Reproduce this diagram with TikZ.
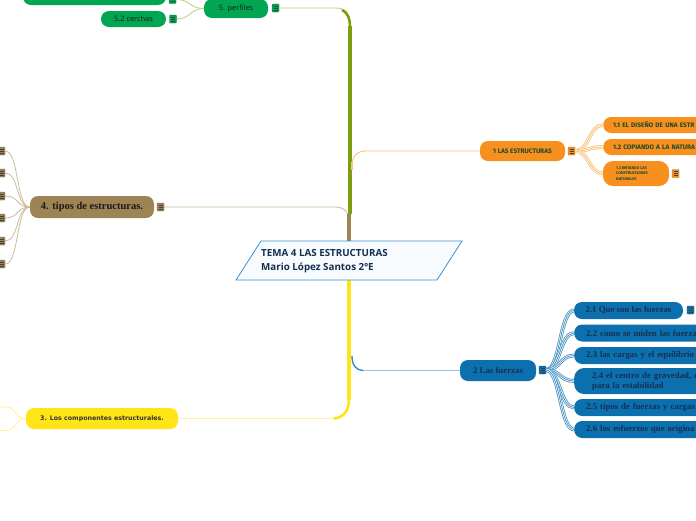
\documentclass[tikz,border=0pt]{standalone}
\usepackage{fontspec}
\setmainfont{Open Sans}
\newfontfamily\firaf{Fira Sans}
\newfontfamily\serf{Liberation Serif}
\newfontfamily\dejf{DejaVu Sans}
\definecolor{cgreen}{HTML}{00A651}
\definecolor{colive}{HTML}{7F9D10}
\definecolor{cgthin}{HTML}{BCD07A}
\definecolor{corange}{HTML}{F7901E}
\definecolor{corl}{HTML}{F9C27B}
\definecolor{ctextg}{HTML}{1D4A2A}
\definecolor{cbrown}{HTML}{9E8455}
\definecolor{ctan}{HTML}{CBBD9E}
\definecolor{cyellow}{HTML}{FFE516}
\definecolor{cyl}{HTML}{FFF09C}
\definecolor{cblue}{HTML}{0C70AF}
\definecolor{cbl}{HTML}{92C3E8}
\definecolor{cnavy}{HTML}{14304F}
\definecolor{cframe}{HTML}{3C8FD0}
\definecolor{cfill}{HTML}{F7FBFD}
\tikzset{
  pill/.style={fill=#1, draw=none, rounded corners=8pt, inner sep=0pt},
  ico/.style={draw=#1!70!black, line width=0.4pt, fill=#1, minimum width=7pt,
    minimum height=8pt, inner sep=0pt, rounded corners=0.8pt,
    path picture={\foreach \k in {-2,0,2}
      \draw[black!75, line width=0.55pt] ([xshift=1.5pt,yshift=\k pt]path picture bounding box.west)
        -- ([xshift=-1.5pt,yshift=\k pt]path picture bounding box.east);}},
  tri/.style={draw=#1, line width=0.8pt,
    preaction={draw=#1, line width=0.8pt, double=white, double distance=2.2pt}},
  gfont/.style={font=\fontsize{7.4}{8.5}\selectfont, text=black!90},
  ofont/.style={font=\firaf\bfseries\fontsize{6.5}{7.5}\selectfont, text=ctextg},
  bfont/.style={font=\serf\bfseries\fontsize{8.8}{10}\selectfont, text=cnavy},
  brfont/.style={font=\serf\bfseries\fontsize{10.5}{11}\selectfont, text=black!90},
  yfont/.style={font=\dejf\bfseries\fontsize{6.3}{7.5}\selectfont, text=black!80},
}
\begin{document}
\begin{tikzpicture}[x=1pt,y=-1pt]
\fill[white] (0,0) rectangle (696,520);
\useasboundingbox (0,0) rectangle (696,520);
\clip (0,0) rectangle (696,520);

% ---- trunk coordinates
\coordinate (ctop) at (349,241);
\coordinate (cbot) at (349,280);

% ---- green branch
\node[pill=cgreen, minimum width=64pt, minimum height=19pt, gfont] (perf) at (236,8.5) {5. perfiles};
\node[ico=cgreen] (ip) at (275.5,8) {};
\node[pill=cgreen, minimum width=143pt, minimum height=17pt] (g1) at (94.5,-3.5) {};
\node[ico=cgreen] (ig1) at (172.5,-0.5) {};
\node[pill=cgreen, minimum width=65pt, minimum height=16pt, gfont] (g2) at (133.5,19) {5.2 cerchas};
\node[ico=cgreen] (ig2) at (173,19) {};

\draw[cgthin, line width=0.9pt] (ip.east) -- (336,8) .. controls (345,8) and (350,13) .. (350,24);
\draw[colive, line width=4.2pt] (350,214) -- (350,26);
\draw[colive, line width=2.6pt] (350,27) .. controls (350,18) and (347,12) .. (342,10);
\draw[cgthin, line width=0.8pt] (perf.west) .. controls +(-14,0) and +(14,0) .. (ig2.east);
\draw[cgthin, line width=0.8pt] (perf.west) .. controls +(-14,0) and +(14,0) .. (ig1.east);

% ---- brown branch
\node[pill=cbrown, minimum width=124pt, minimum height=22pt, brfont] (b0) at (92,207) {4. tipos de estructuras.};
\node[ico=cbrown] (ib0) at (160.5,207) {};
\foreach \n/\yy in {1/151,2/173,3/196,4/218,5/241,6/264}{
  \node[ico=cbrown] (ib\n) at (1.5,\yy) {};
  \draw[ctan, line width=0.8pt] (b0.west) .. controls +(-14,0) and +(14,0) .. (ib\n.east);
}
\draw[ctan, line width=0.9pt] (ib0.east) -- (335,207) .. controls (344,207) and (349,212) .. (349,222);
\draw[cbrown, line width=4.4pt] (349,241) -- (349,214);

% ---- orange branch
\node[pill=corange, minimum width=85pt, minimum height=20pt, ofont] (o0) at (522.5,151) {1 LAS ESTRUCTURAS};
\node[ico=corange] (io0) at (571.5,151) {};
\node[pill=corange, anchor=west, minimum height=16pt, text width=110pt, inner xsep=10pt, align=left, ofont] (o1) at (603,125) {1.1 EL DISEÑO DE UNA ESTR};
\node[pill=corange, anchor=west, minimum height=16pt, text width=110pt, inner xsep=10pt, align=left, ofont] (o2) at (603,147) {1.2 COPIANDO A LA NATURA};
\node[pill=corange, minimum width=66pt, minimum height=25pt, rounded corners=10pt] (o3) at (636,173.5) {};
\node[anchor=west, align=left, inner sep=0pt, font=\firaf\bfseries\fontsize{3.9}{5.4}\selectfont, text=ctextg] (o3t) at (616,173.5) {1.3 IMITANDO LAS\\CONSTRUCCIONES\\NATURALES};
\node[ico=corange] (io3) at (675.5,173.5) {};
\draw[corl, line width=0.9pt] (o0.west) -- (366,151) .. controls (357,151) and (352,156) .. (352,166);
\draw[corl, line width=1.4pt] (352,162) -- (352,170);
\foreach \c in {o1,o2,o3}
  \draw[tri=corl] (io0.east) .. controls +(14,0) and +(-14,0) .. (\c.west);

% ---- yellow branch
\node[pill=cyellow, minimum width=152pt, minimum height=21pt, yfont] (y0) at (102,418.5) {3. Los componentes estructurales.};
\coordinate (yl1) at (0,407);
\coordinate (yl2) at (0,430.5);
\draw[cyl, line width=0.9pt] (y0.west) .. controls +(-10,0) and +(8,0) .. (7,407) -- (yl1);
\draw[cyl, line width=0.9pt] (y0.west) .. controls +(-10,0) and +(8,0) .. (7,430.5) -- (yl2);
\draw[cyl, line width=1.2pt] (y0.east) -- (334,418.5);
\draw[cyellow, line width=4.4pt] (cbot) -- (349,400);
\draw[cyellow, line width=2.6pt] (349,398) .. controls (349,410) and (345,417) .. (334,418.5);

% ---- blue branch
\node[pill=cblue, minimum width=76pt, minimum height=21pt, bfont] (u0) at (498,370.5) {2 Las fuerzas};
\node[ico=cblue] (iu0) at (542.5,370) {};
\node[pill=cblue, minimum width=109pt, minimum height=17pt, bfont] (u1) at (628.5,310.5) {2.1 Que son las fuerzas};
\node[ico=cblue] (iu1) at (690.5,310) {};
\node[pill=cblue, anchor=west, minimum height=17pt, text width=130pt, inner xsep=12pt, align=left, bfont] (u2) at (574,333) {2.2 como se miden las fuerzas};
\node[pill=cblue, anchor=west, minimum height=17pt, text width=130pt, inner xsep=12pt, align=left, bfont] (u3) at (574,355.5) {2.3 las cargas y el equilibrio};
\node[pill=cblue, anchor=west, minimum height=26pt, text width=130pt, inner xsep=18pt, align=left, rounded corners=10pt, font=\serf\bfseries\fontsize{8.8}{9.8}\selectfont, text=cnavy] (u4) at (574,381) {2.4 el centro de gravedad, c\\para la estabilidad};
\node[pill=cblue, anchor=west, minimum height=17pt, text width=130pt, inner xsep=12pt, align=left, bfont] (u5) at (574,407.5) {2.5 tipos de fuerzas y cargas};
\node[pill=cblue, anchor=west, minimum height=17pt, text width=130pt, inner xsep=12pt, align=left, bfont] (u6) at (574,429.5) {2.6 los esfuerzos que origina};
\draw[cbl, line width=0.9pt] (u0.west) -- (366,370.5) .. controls (357,370.5) and (352,366) .. (352,356);
\draw[cblue!80, line width=1.3pt] (352,356) .. controls (352,365) and (356,370.5) .. (363,370.5);
\foreach \c in {u1,u2,u3,u4,u5,u6}
  \draw[tri=cblue!75] (iu0.east) .. controls +(14,0) and +(-14,0) .. (\c.west);

% ---- central topic
\draw[cframe, fill=cfill, line width=0.8pt] (261,241) -- (462,241) -- (437,280) -- (236,280) -- cycle;
\node[anchor=west, align=left, inner sep=0pt, text=cnavy, font=\bfseries\fontsize{9.8}{14}\selectfont] (ctr) at (261,261) {TEMA 4 LAS ESTRUCTURAS\\Mario López Santos 2ºE};
\end{tikzpicture}
\end{document}
